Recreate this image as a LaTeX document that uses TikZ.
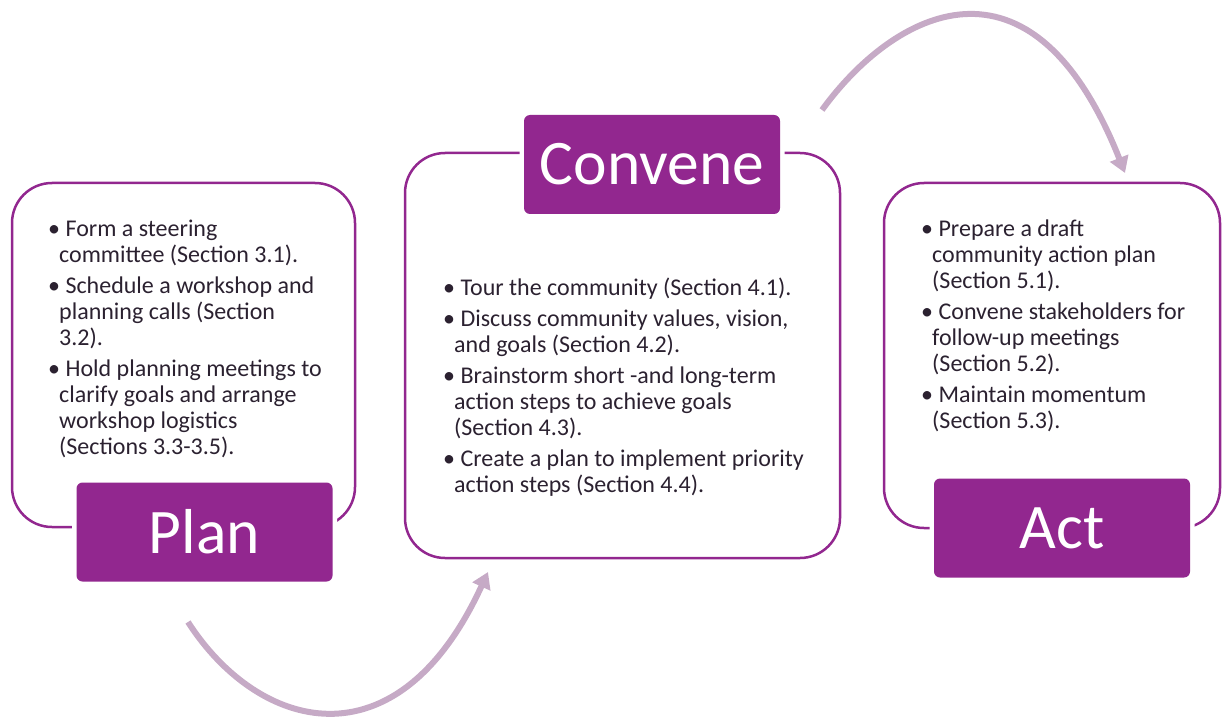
\documentclass[tikz,border=0pt]{standalone}
\usepackage{fontspec}
\setmainfont{Carlito}
\usetikzlibrary{positioning, arrows.meta}
\definecolor{stagepurple}{HTML}{92278F}
\definecolor{arrowmauve}{HTML}{C6AAC6}
\definecolor{bodytext}{HTML}{2B2130}
\newcommand\wrapindent{\hspace*{11pt}}

\begin{document}
\begin{tikzpicture}[x=1pt, y=-1pt,
  stage/.style={draw=stagepurple, line width=2.5pt, rounded corners=40pt, inner sep=0pt},
  stage label/.style={fill=stagepurple, text=white, rounded corners=6pt, minimum width=256pt, minimum height=99pt, inner sep=0pt, font=\fontsize{63.5}{70}\selectfont, preaction={draw=white, line width=9pt}},
  bullets/.style={anchor=north west, inner sep=0pt, align=left, text=bodytext, font=\fontsize{24}{26}\selectfont},
  cycle arrow/.style={draw=arrowmauve, line width=6pt, -{Triangle[length=16pt, width=19pt]}}]
\useasboundingbox (0,0) rectangle (1222,719);
% outlines
\node[stage, minimum width=343pt, minimum height=344pt] (plan box) at (183.5,355) {};
\node[stage, minimum width=435pt, minimum height=405pt] (convene box) at (622.5,355.5) {};
\node[stage, minimum width=336pt, minimum height=345pt] (act box) at (1052,355.5) {};
% labels
\node[stage label] (plan) at (204.5,532) {Plan};
\node[stage label] (convene) at (652,164.5) {Convene};
\node[stage label] (act) at (1062,528) {Act};
% steps
\node[bullets] (plan items) at (48,220) {\textbullet\ Form a steering\\
  \wrapindent committee (Section 3.1).\\[5pt]
  \textbullet\ Schedule a workshop and\\
  \wrapindent planning calls (Section\\
  \wrapindent 3.2).\\[5pt]
  \textbullet\ Hold planning meetings to\\
  \wrapindent clarify goals and arrange\\
  \wrapindent workshop logistics\\
  \wrapindent (Sections 3.3-3.5).};
\node[bullets] (convene items) at (443,278) {\textbullet\ Tour the community (Section 4.1).\\[5pt]
  \textbullet\ Discuss community values, vision,\\
  \wrapindent and goals (Section 4.2).\\[5pt]
  \textbullet\ Brainstorm short -and long-term\\
  \wrapindent action steps to achieve goals\\
  \wrapindent (Section 4.3).\\[5pt]
  \textbullet\ Create a plan to implement priority\\
  \wrapindent action steps (Section 4.4).};
\node[bullets] (act items) at (921,220) {\textbullet\ Prepare a draft\\
  \wrapindent community action plan\\
  \wrapindent (Section 5.1).\\[5pt]
  \textbullet\ Convene stakeholders for\\
  \wrapindent follow-up meetings\\
  \wrapindent (Section 5.2).\\[5pt]
  \textbullet\ Maintain momentum\\
  \wrapindent (Section 5.3).};
% cycle arrows
\coordinate (plan tail) at (188,622);
\coordinate (convene head) at (488,572);
\coordinate (convene tail) at (822,110);
\coordinate (act head) at (1125,173);
\draw[cycle arrow] (plan tail) .. controls (258,731) and (397,770) .. (convene head);
\draw[cycle arrow] (convene tail) .. controls (893,12) and (1031,-64) .. (act head);
\end{tikzpicture}
\end{document}
